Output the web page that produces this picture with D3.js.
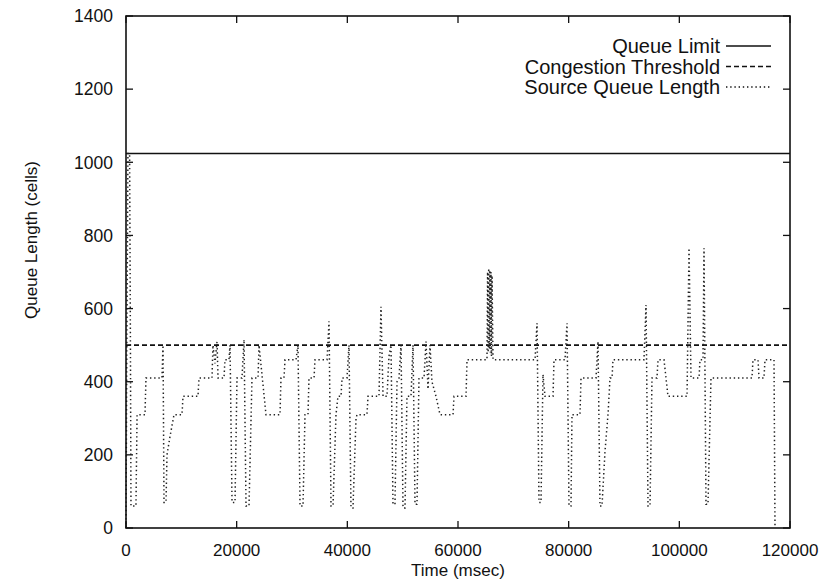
<!DOCTYPE html>
<html>
<head>
<meta charset="utf-8">
<script src="https://cdn.jsdelivr.net/npm/d3@7"></script>
<style>
  body { margin: 0; background: #fff; }
  text { font-family: "Liberation Sans", Arial, sans-serif; fill: #111; }
</style>
</head>
<body>
<svg id="chart" width="827" height="585"></svg>
<script>
// values
const xTicks = [0, 20000, 40000, 60000, 80000, 100000, 120000];
const yTicks = [0, 200, 400, 600, 800, 1000, 1200, 1400];
const queueLimit = 1024;
const congestionThreshold = 500;
const legendLabels = ["Queue Limit", "Congestion Threshold", "Source Queue Length"];

// [time (msec), queue length (cells)]
const sourceQueue = [
  [0,0],[150,500],[350,1024],[650,1024],[800,500],[900,60],[1800,60],[2000,310],[3430,310],[3610,410],
  [6500,410],[6690,500],[6870,70],[7230,70],[7410,200],[7950,250],[8680,310],[10120,310],[10300,360],
  [13010,360],[13190,410],[15540,410],[15720,500],[16080,450],[16450,510],[16630,410],[17710,410],
  [17890,460],[18610,460],[18800,500],[19160,70],[19700,70],[20060,410],[20960,410],[21330,515],
  [21690,60],[22230,60],[22770,410],[23860,410],[24040,500],[25300,310],[27830,310],[28010,410],
  [28550,410],[28740,460],[30720,460],[31080,500],[31450,60],[31990,60],[32350,310],[32890,310],
  [33070,410],[33980,410],[34160,460],[36330,460],[36690,565],[37050,60],[37410,60],[37950,310],
  [38310,360],[38860,360],[39040,410],[39940,410],[40300,500],[40660,55],[41020,55],[41570,300],
  [41750,310],[43550,310],[43740,360],[45720,360],[46080,605],[46450,360],[47170,360],[47530,470],
  [47890,500],[48250,65],[48610,65],[48980,400],[49340,410],[49700,500],[50060,55],[50420,55],
  [50780,360],[51510,360],[51870,500],[52230,65],[52590,65],[52950,410],[53860,410],[54220,510],
  [54580,380],[54940,500],[55300,400],[56020,360],[56750,310],[59100,310],[59280,360],[61450,360],
  [61630,460],[65240,460],[65350,700],[65450,480],[65550,710],[65650,490],[65750,705],[65850,480],
  [65950,700],[66050,470],[66150,690],[66330,460],[73920,460],[74280,560],[74640,70],[75000,70],
  [75360,420],[75720,360],[77170,360],[77350,460],[79340,460],[79700,560],[80060,60],[80420,60],
  [80600,310],[82050,310],[82230,410],[84940,410],[85300,510],[85660,60],[86020,60],[86570,210],
  [87110,310],[87470,410],[87830,410],[88010,460],[93610,460],[93980,610],[94340,60],[94700,60],
  [95060,410],[95960,410],[96150,460],[97230,460],[97950,360],[101390,360],[101750,765],[102110,410],
  [103550,410],[103740,460],[104280,460],[104460,765],[104820,65],[105180,65],[105720,410],
  [113130,410],[113310,460],[114220,460],[114400,410],[115300,410],[115480,460],[117110,460],[117290,0]
];

const svg = d3.select("#chart");
const mLeft = 126, mRight = 790, mTop = 16, mBottom = 528;

const x = d3.scaleLinear().domain([0, 120000]).range([mLeft, mRight]);
const y = d3.scaleLinear().domain([0, 1400]).range([mBottom, mTop]);

// ticks, inward on all four sides (gnuplot style)
const tickLen = 7;
const ink = "#111";
const g = svg.append("g");

xTicks.forEach(t => {
  g.append("line").attr("x1", x(t)).attr("x2", x(t)).attr("y1", mBottom).attr("y2", mBottom - tickLen)
    .attr("stroke", ink).attr("stroke-width", 1.3);
  g.append("line").attr("x1", x(t)).attr("x2", x(t)).attr("y1", mTop).attr("y2", mTop + tickLen)
    .attr("stroke", ink).attr("stroke-width", 1.3);
  g.append("text").attr("x", x(t)).attr("y", 556).attr("text-anchor", "middle")
    .style("font-size", "17px").text(t);
});

yTicks.forEach(v => {
  g.append("line").attr("x1", mLeft).attr("x2", mLeft + tickLen).attr("y1", y(v)).attr("y2", y(v))
    .attr("stroke", ink).attr("stroke-width", 1.3);
  g.append("line").attr("x1", mRight).attr("x2", mRight - tickLen).attr("y1", y(v)).attr("y2", y(v))
    .attr("stroke", ink).attr("stroke-width", 1.3);
  g.append("text").attr("x", 113).attr("y", y(v)).attr("dy", "0.36em").attr("text-anchor", "end")
    .style("font-size", "17.5px").text(v);
});

// axis titles
svg.append("text").attr("x", 458).attr("y", 576).attr("text-anchor", "middle")
  .style("font-size", "17px").text("Time (msec)");
svg.append("text").attr("transform", "translate(37,240) rotate(-90)").attr("text-anchor", "middle")
  .style("font-size", "17px").text("Queue Length (cells)");

// series
const line = d3.line().x(d => x(d[0])).y(d => y(d[1]));

svg.append("path")
  .attr("d", line([[0, queueLimit], [120000, queueLimit]]))
  .attr("fill", "none").attr("stroke", ink).attr("stroke-width", 1.3);

svg.append("path")
  .attr("d", line([[0, congestionThreshold], [120000, congestionThreshold]]))
  .attr("fill", "none").attr("stroke", ink).attr("stroke-width", 1.6)
  .attr("stroke-dasharray", "5,3");

svg.append("path")
  .attr("d", line(sourceQueue))
  .attr("fill", "none").attr("stroke", "#222").attr("stroke-width", 1.5)
  .attr("stroke-dasharray", "1.4,2.8");

// frame
svg.append("rect").attr("x", mLeft).attr("y", mTop).attr("width", mRight - mLeft).attr("height", mBottom - mTop)
  .attr("fill", "none").attr("stroke", ink).attr("stroke-width", 1.6);

// legend
const dashes = [null, "5,3", "1.4,2.8"];
legendLabels.forEach((lab, i) => {
  const ly = 53 + i * 20.5;
  svg.append("text").attr("x", 720).attr("y", ly).attr("text-anchor", "end")
    .style("font-size", "20px").text(lab);
  svg.append("line").attr("x1", 726).attr("x2", 771).attr("y1", ly - 7).attr("y2", ly - 7)
    .attr("stroke", ink).attr("stroke-width", 1.3)
    .attr("stroke-dasharray", dashes[i]);
});
</script>
</body>
</html>
